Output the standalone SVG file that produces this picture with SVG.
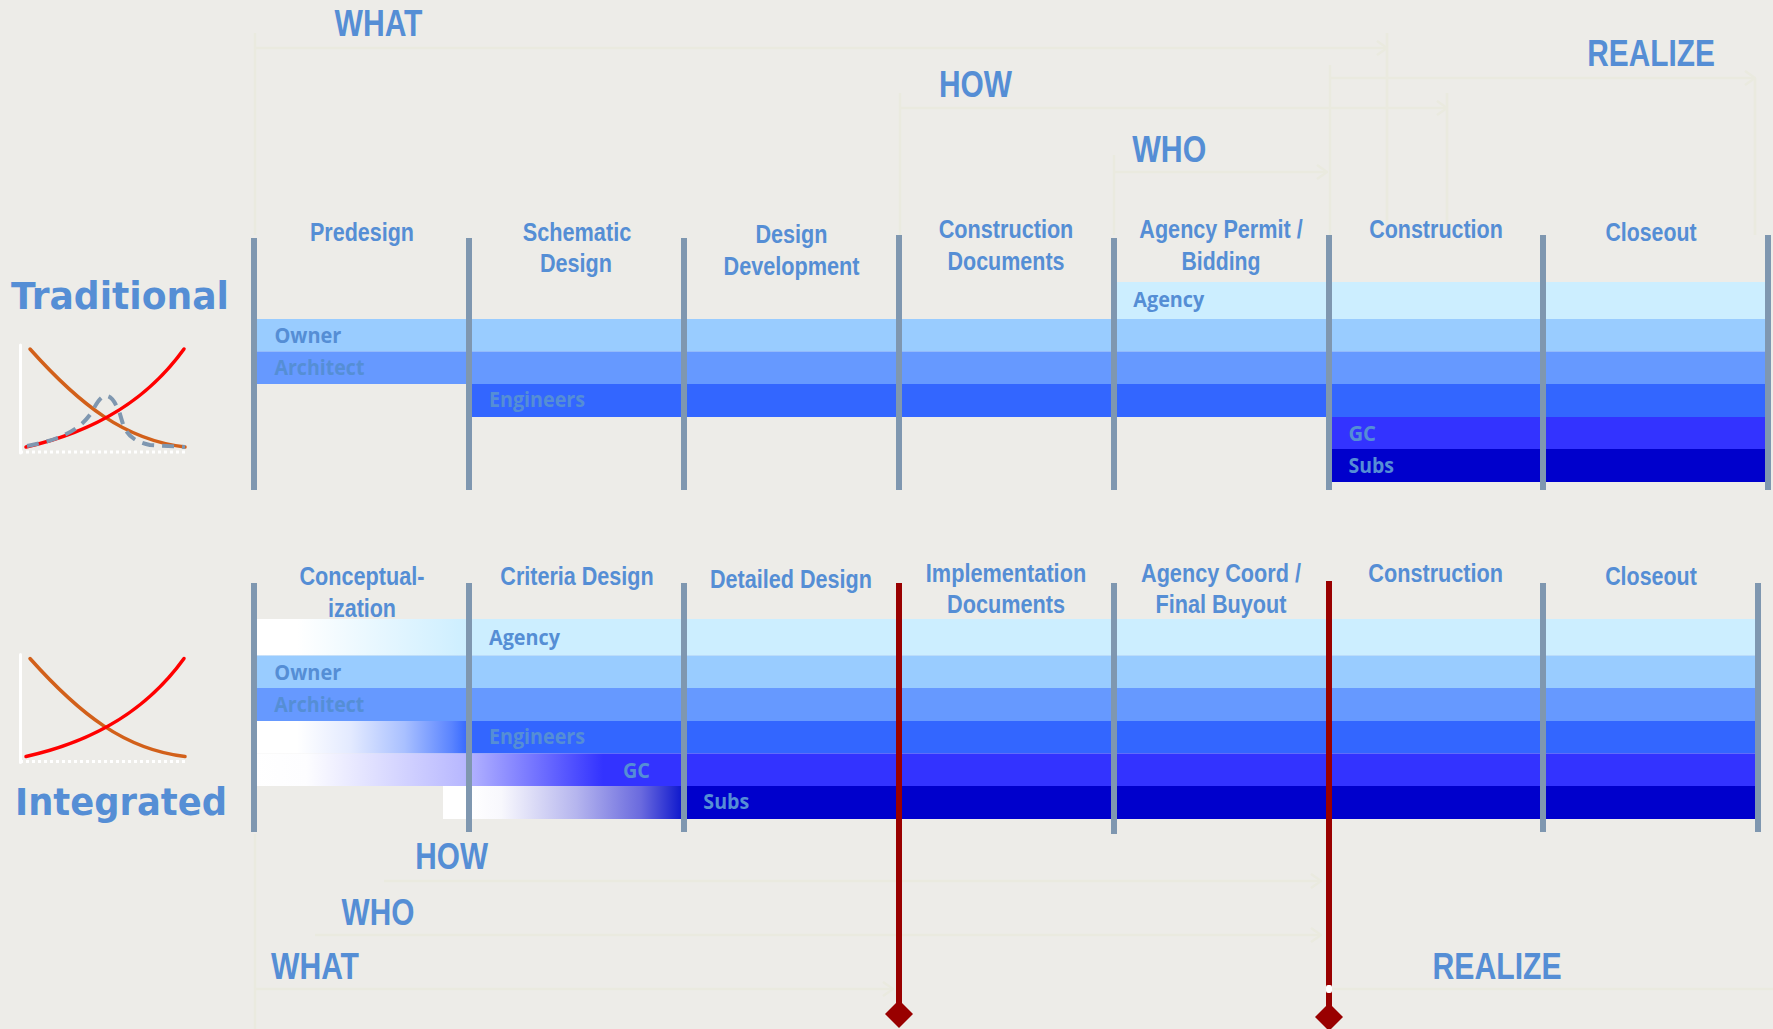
<svg xmlns="http://www.w3.org/2000/svg" width="1773" height="1029" viewBox="0 0 1773 1029">
  <style>
    .hd { font-family: "Liberation Sans Narrow", "Liberation Sans", Arial, sans-serif; font-weight: bold; font-size: 26px; fill: #558ed5; text-anchor: middle; }
    .stage { font-family: "Liberation Sans Narrow", "Liberation Sans", Arial, sans-serif; font-weight: bold; font-size: 37px; fill: #558ed5; }
    .lbl { font-family: "Open Sans", "Liberation Sans", sans-serif; font-weight: bold; font-size: 21px; fill: #558ed5; }
    .big { font-family: "DejaVu Sans", Verdana, sans-serif; font-weight: bold; font-size: 37px; fill: #558ed5; }
    .phase { stroke: #7f97b0; stroke-width: 6; }
    .gate { stroke: #990000; stroke-width: 6; }
    .faint { stroke: #eaeadf; stroke-width: 2.5; fill: none; }
    .agency { fill: #cceeff; }
    .owner { fill: #99ccff; }
    .arch { fill: #6699ff; }
    .eng { fill: #3366ff; }
    .gc { fill: #3333ff; }
    .subs { fill: #0000cc; }
  </style>
  <defs>
    <marker id="chev" viewBox="0 0 12 16" refX="11" refY="8" markerWidth="12" markerHeight="16" markerUnits="userSpaceOnUse" orient="auto">
      <path d="M1,1 L11,8 L1,15" fill="none" stroke="#eaeadf" stroke-width="2.5"/>
    </marker>
    <linearGradient id="gAgency" x1="0" x2="1" y1="0" y2="0">
      <stop offset="0" stop-color="#ffffff"/>
      <stop offset="0.2" stop-color="#ffffff"/>
      <stop offset="1" stop-color="#cceeff"/>
    </linearGradient>
    <linearGradient id="gEng" x1="0" x2="1" y1="0" y2="0">
      <stop offset="0" stop-color="#ffffff"/>
      <stop offset="0.2" stop-color="#ffffff"/>
      <stop offset="0.45" stop-color="#e3eaff"/>
      <stop offset="0.7" stop-color="#a9c0ff"/>
      <stop offset="0.92" stop-color="#5a84ff"/>
      <stop offset="1" stop-color="#3366ff"/>
    </linearGradient>
    <linearGradient id="gGC" x1="0" x2="1" y1="0" y2="0">
      <stop offset="0" stop-color="#ffffff"/>
      <stop offset="0.15" stop-color="#fdfdff"/>
      <stop offset="0.6" stop-color="#b8b8ff"/>
      <stop offset="1" stop-color="#3333ff"/>
    </linearGradient>
    <linearGradient id="gSubs" x1="0" x2="1" y1="0" y2="0">
      <stop offset="0" stop-color="#ffffff"/>
      <stop offset="0.15" stop-color="#f8f8fd"/>
      <stop offset="0.5" stop-color="#b5b5ee"/>
      <stop offset="0.8" stop-color="#6a6ade"/>
      <stop offset="1" stop-color="#0a14cc"/>
    </linearGradient>
    <!-- cost / influence curves -->
    <g id="curves">
      <line x1="20.5" y1="345" x2="20.5" y2="453" stroke="#ffffff" stroke-width="3" stroke-linecap="round"/>
      <line x1="20" y1="452" x2="187" y2="452" stroke="#ffffff" stroke-width="3" stroke-dasharray="3 3"/>
      <path d="M30,349 C80,405 125,440 185,447" fill="none" stroke="#d2601a" stroke-width="3.5" stroke-linecap="round"/>
      <path d="M26,447 C80,435 140,410 184,349" fill="none" stroke="#ff0000" stroke-width="3.5" stroke-linecap="round"/>
    </g>
  </defs>

  <rect width="1773" height="1029" fill="#edece8"/>

  <!-- faint timeline arrows -->
  <g id="connectors">
    <g class="faint">
      <path d="M255,33 V235 M255,48 H1387" marker-end="url(#chev)"/>
      <path d="M1387,33 V235"/>
      <path d="M1330,65 V235 M1330,78 H1755" marker-end="url(#chev)"/>
      <path d="M1755,78 V235"/>
      <path d="M900,93 V235 M900,108 H1447" marker-end="url(#chev)"/>
      <path d="M1447,93 V235"/>
      <path d="M1114,155 V235 M1114,172 H1327" marker-end="url(#chev)"/>
      <path d="M384,881 H1321" marker-end="url(#chev)"/>
      <path d="M315,935 H1321" marker-end="url(#chev)"/>
      <path d="M255,834 V1029 M255,989 H893" marker-end="url(#chev)"/>
      <path d="M1329,989 H1773"/>
    </g>
  </g>

  <!-- stage labels -->
  <g id="stages">
    <text class="stage" x="334.5" y="35.7" textLength="88" lengthAdjust="spacingAndGlyphs">WHAT</text>
    <text class="stage" x="939" y="96.7" textLength="73" lengthAdjust="spacingAndGlyphs">HOW</text>
    <text class="stage" x="1132.3" y="162.3" textLength="74" lengthAdjust="spacingAndGlyphs">WHO</text>
    <text class="stage" x="1587.3" y="66" textLength="127.5" lengthAdjust="spacingAndGlyphs">REALIZE</text>
    <text class="stage" x="415.3" y="869.3" textLength="72.7" lengthAdjust="spacingAndGlyphs">HOW</text>
    <text class="stage" x="341.6" y="925.3" textLength="72.8" lengthAdjust="spacingAndGlyphs">WHO</text>
    <text class="stage" x="271" y="979" textLength="88" lengthAdjust="spacingAndGlyphs">WHAT</text>
    <text class="stage" x="1432.6" y="979" textLength="129" lengthAdjust="spacingAndGlyphs">REALIZE</text>
  </g>

  <!-- ===== Traditional delivery ===== -->
  <g id="traditional-title">
    <text class="big" x="11" y="309" textLength="218" lengthAdjust="spacingAndGlyphs">Traditional</text>
    <use href="#curves"/>
    <path d="M27,446 C60,440 80,430 92,412 C98,400 102,396 106,396 C112,396 116,404 120,414 C124,428 126,440 150,445 L185,447" fill="none" stroke="#7f97b0" stroke-width="4" stroke-dasharray="12 8"/>
  </g>

  <g id="trad-bands">
    <g id="trad-agency"><rect class="agency" x="1114" y="282" width="652" height="37"/><text class="lbl" x="1133.3" y="307.3" textLength="71" lengthAdjust="spacingAndGlyphs">Agency</text></g>
    <g id="trad-owner"><rect class="owner" x="254" y="319" width="1512" height="32.5"/><text class="lbl" x="274.4" y="342.7" textLength="67" lengthAdjust="spacingAndGlyphs">Owner</text></g>
    <g id="trad-architect"><rect class="arch" x="254" y="351.5" width="1512" height="32.5"/><text class="lbl" x="274.4" y="375.3" textLength="90" lengthAdjust="spacingAndGlyphs">Architect</text></g>
    <g id="trad-engineers"><rect class="eng" x="469" y="384" width="1297" height="33"/><text class="lbl" x="489" y="407.3" textLength="96" lengthAdjust="spacingAndGlyphs">Engineers</text></g>
    <g id="trad-gc"><rect class="gc" x="1329" y="417" width="437" height="32"/><text class="lbl" x="1348.4" y="440.7" textLength="27.6" lengthAdjust="spacingAndGlyphs">GC</text></g>
    <g id="trad-subs"><rect class="subs" x="1329" y="449" width="437" height="33"/><text class="lbl" x="1348.4" y="473.3" textLength="45.6" lengthAdjust="spacingAndGlyphs">Subs</text></g>
  </g>

  <g id="trad-phases">
    <g id="trad-predesign"><line class="phase" x1="254" y1="238" x2="254" y2="490"/><text class="hd" x="362" y="240.7" textLength="104" lengthAdjust="spacingAndGlyphs">Predesign</text></g>
    <g id="trad-schematic"><line class="phase" x1="469" y1="238" x2="469" y2="490"/><text class="hd" x="577" y="240.7" textLength="108.5" lengthAdjust="spacingAndGlyphs">Schematic</text><text class="hd" x="576" y="272" textLength="72" lengthAdjust="spacingAndGlyphs">Design</text></g>
    <g id="trad-dd"><line class="phase" x1="684" y1="238" x2="684" y2="490"/><text class="hd" x="791.5" y="243.3" textLength="72" lengthAdjust="spacingAndGlyphs">Design</text><text class="hd" x="791.5" y="275.3" textLength="136" lengthAdjust="spacingAndGlyphs">Development</text></g>
    <g id="trad-cd"><line class="phase" x1="899" y1="235" x2="899" y2="490"/><text class="hd" x="1006" y="238.3" textLength="134.7" lengthAdjust="spacingAndGlyphs">Construction</text><text class="hd" x="1006" y="270" textLength="117" lengthAdjust="spacingAndGlyphs">Documents</text></g>
    <g id="trad-permit"><line class="phase" x1="1114" y1="238" x2="1114" y2="490"/><text class="hd" x="1221" y="238.3" textLength="163.4" lengthAdjust="spacingAndGlyphs">Agency Permit /</text><text class="hd" x="1221" y="270" textLength="79" lengthAdjust="spacingAndGlyphs">Bidding</text></g>
    <g id="trad-construction"><line class="phase" x1="1329" y1="235" x2="1329" y2="490"/><text class="hd" x="1436" y="238.3" textLength="133.7" lengthAdjust="spacingAndGlyphs">Construction</text></g>
    <g id="trad-closeout"><line class="phase" x1="1543" y1="235" x2="1543" y2="490"/><text class="hd" x="1651" y="241" textLength="91" lengthAdjust="spacingAndGlyphs">Closeout</text><line class="phase" x1="1768" y1="235" x2="1768" y2="490"/></g>
  </g>

  <!-- ===== Integrated delivery ===== -->
  <g id="integrated-title">
    <text class="big" x="15" y="815" textLength="212" lengthAdjust="spacingAndGlyphs">Integrated</text>
    <use href="#curves" transform="translate(0,309.5)"/>
  </g>

  <g id="int-bands">
    <g id="int-agency"><rect fill="url(#gAgency)" x="254" y="619" width="215" height="36.5"/><rect class="agency" x="469" y="619" width="1286" height="36.5"/><text class="lbl" x="489" y="645" textLength="71" lengthAdjust="spacingAndGlyphs">Agency</text></g>
    <g id="int-owner"><rect class="owner" x="254" y="655.5" width="1501" height="32.5"/><text class="lbl" x="274.3" y="680" textLength="67" lengthAdjust="spacingAndGlyphs">Owner</text></g>
    <g id="int-architect"><rect class="arch" x="254" y="688" width="1501" height="33"/><text class="lbl" x="274.3" y="711.7" textLength="90" lengthAdjust="spacingAndGlyphs">Architect</text></g>
    <g id="int-engineers"><rect fill="url(#gEng)" x="254" y="721" width="215" height="32.5"/><rect class="eng" x="469" y="721" width="1286" height="32.5"/><text class="lbl" x="489" y="744.3" textLength="96" lengthAdjust="spacingAndGlyphs">Engineers</text></g>
    <g id="int-gc"><rect fill="url(#gGC)" x="254" y="753.5" width="349" height="32.5"/><rect class="gc" x="603" y="753.5" width="1152" height="32.5"/><text class="lbl" x="623" y="777.7" textLength="27" lengthAdjust="spacingAndGlyphs">GC</text></g>
    <g id="int-subs"><rect fill="#ffffff" x="443" y="786" width="26" height="33"/><rect fill="url(#gSubs)" x="469" y="786" width="215" height="33"/><rect class="subs" x="684" y="786" width="1071" height="33"/><text class="lbl" x="703.3" y="809.3" textLength="46" lengthAdjust="spacingAndGlyphs">Subs</text></g>
  </g>

  <g id="int-phases">
    <g id="int-concept"><line class="phase" x1="254" y1="583" x2="254" y2="832"/><text class="hd" x="362" y="585" textLength="125" lengthAdjust="spacingAndGlyphs">Conceptual-</text><text class="hd" x="362" y="616.7" textLength="68" lengthAdjust="spacingAndGlyphs">ization</text></g>
    <g id="int-criteria"><line class="phase" x1="469" y1="583" x2="469" y2="832"/><text class="hd" x="577" y="585" textLength="153.3" lengthAdjust="spacingAndGlyphs">Criteria Design</text></g>
    <g id="int-detailed"><line class="phase" x1="684" y1="583" x2="684" y2="832"/><text class="hd" x="791" y="587.7" textLength="162" lengthAdjust="spacingAndGlyphs">Detailed Design</text></g>
    <g id="int-impl"><text class="hd" x="1006" y="582.3" textLength="160.3" lengthAdjust="spacingAndGlyphs">Implementation</text><text class="hd" x="1006" y="613.3" textLength="118" lengthAdjust="spacingAndGlyphs">Documents</text></g>
    <g id="int-coord"><line class="phase" x1="1114" y1="583" x2="1114" y2="834"/><text class="hd" x="1221" y="582.3" textLength="160" lengthAdjust="spacingAndGlyphs">Agency Coord /</text><text class="hd" x="1221" y="613.3" textLength="131" lengthAdjust="spacingAndGlyphs">Final Buyout</text></g>
    <g id="int-construction"><text class="hd" x="1435.7" y="582.3" textLength="134.7" lengthAdjust="spacingAndGlyphs">Construction</text></g>
    <g id="int-closeout"><line class="phase" x1="1543" y1="583" x2="1543" y2="832"/><text class="hd" x="1651" y="585" textLength="91.7" lengthAdjust="spacingAndGlyphs">Closeout</text><line class="phase" x1="1758" y1="583" x2="1758" y2="832"/></g>
  </g>

  <!-- decision gates -->
  <g id="gates">
    <g id="gate-1"><line class="gate" x1="899" y1="583" x2="899" y2="1006"/><polygon points="899,1000 913,1014 899,1028 885,1014" fill="#990000"/></g>
    <g id="gate-2"><line class="gate" x1="1329" y1="581" x2="1329" y2="1008"/><rect x="1326" y="985" width="6" height="8" rx="2" fill="#ffffff"/><polygon points="1329,1003 1343,1017 1329,1031 1315,1017" fill="#990000"/></g>
  </g>
</svg>
